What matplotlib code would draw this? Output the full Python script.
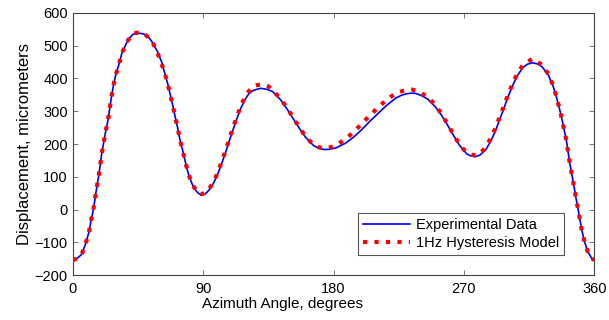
import matplotlib
matplotlib.use("Agg")
import matplotlib.pyplot as plt

plt.rcParams['font.family'] = ['Liberation Sans', 'DejaVu Sans']

# Experimental data (blue)
exp_angle = [0, 3, 6.2, 9, 11.2, 12.6, 14.2, 15.4, 16.6, 17.9, 19, 20, 21.4, 22.8, 24.4, 25.5,
             26.7, 28, 29.7, 32, 34, 37.3, 39.5, 41.7, 44, 46, 48, 50, 52.3, 54.6, 58.4, 61.4,
             63.5, 65.6, 67.4, 69.2, 70.8, 72.5, 74, 75.9, 77.7, 79.6, 82.3, 84.3, 86.3, 88,
             89.5, 91.3, 93, 95.3, 97.5, 100.5, 103.2, 105.8, 108.1, 110.6, 113.2, 115.9,
             119.1, 121.5, 124, 127, 130, 134, 138, 143.5, 147.9, 152.2, 156.4, 160.8, 166.3,
             170, 173.5, 177.5, 181.7, 188.4, 194.4, 199.7, 205.2, 210.7, 216.4, 222.9, 226.5,
             230, 233, 236, 238.3, 241.5, 245, 250.2, 254.7, 258.8, 262.7, 266.8, 271.9, 274.5,
             277.6, 281, 285, 288.7, 292, 294.9, 297.7, 300.4, 303.4, 306.6, 310.8, 314, 317.2,
             320.5, 323.9, 328.3, 331.3, 333.5, 335.6, 337.5, 339.1, 340.7, 341.8, 343, 344.4,
             345.8, 347.1, 348.5, 349.9, 351.3, 353.1, 355.4, 358, 360]
exp_disp = [-155, -149, -137, -103, -69, -35, -2, 33, 68, 102, 136, 170, 205, 240, 274, 308,
            343, 377, 411, 445, 478, 510, 525, 535, 538, 538, 537, 534, 526, 513, 483, 450,
            417, 383, 349, 315, 281, 248, 213, 180, 146, 112, 79, 62, 51, 46,
            45, 47, 54, 67, 83, 113, 145, 178, 210, 243, 276, 308,
            337, 353, 362, 367, 370, 367, 360, 335, 307, 277, 248, 220, 195,
            187, 183, 184, 188, 203, 223, 245, 270, 293, 317, 340, 348,
            353, 355, 355, 352, 346, 337, 314, 287, 257, 227, 197, 170, 164,
            161, 166, 182, 210, 243, 277, 310, 344, 376, 407, 434, 444, 448,
            445, 436, 410, 380, 349, 314, 279, 245, 211, 178, 143, 109,
            75, 41, 8, -27, -62, -96, -128, -148, -155]

# 1Hz hysteresis model (red dotted)
mod_angle = [0, 3, 6.2, 9, 11.2, 12.6, 14.2, 15.4, 16.6, 17.9, 19, 20, 21.4, 22.8, 24.4, 25.5,
             26.7, 28, 29.7, 32, 34, 37.3, 41.6, 45.3, 49.2, 54.7, 58.2, 61, 63.5, 65.6,
             67.4, 69.2, 70.8, 72.5, 74, 75.9, 77.7, 79.6, 82.3, 86.3, 89.3, 93.2, 97.5,
             100.5, 103.2, 105.8, 108.1, 110.6, 113.2, 115.9, 119.1, 124, 127.5, 131.5, 135,
             138, 143.5, 147.9, 152.2, 156.4, 160.8, 166.3, 170, 174.1, 178, 181.7, 188.4,
             194.4, 199.7, 205.2, 210.7, 216.4, 222.9, 230.5, 234.5, 238.3, 245, 250.2, 254.7,
             258.8, 262.7, 266.8, 271.9, 275.3, 278.8, 282, 285, 288.7, 292, 294.9, 297.7,
             300.4, 303.4, 306.6, 310.8, 317.2, 323.9, 328.3, 331.3, 333.5, 335.6, 337.5,
             339.1, 340.7, 341.8, 343, 344.4, 345.8, 347.1, 348.5, 349.9, 351.3, 353.1, 355.4,
             358, 360]
mod_disp = [-155, -149, -137, -103, -69, -35, -2, 33, 68, 102, 136, 170, 205, 240, 274, 308,
            343, 377, 411, 445, 478, 511, 538, 540, 538, 514, 482, 449, 417, 383,
            349, 315, 281, 248, 213, 180, 146, 112, 79, 49, 47, 57, 86,
            118, 151, 184, 216, 250, 282, 315, 347, 375, 380, 382, 376,
            364, 338, 310, 280, 251, 222, 197, 190, 187, 190, 196, 215,
            239, 263, 288, 311, 334, 355, 366, 366, 361, 344, 319, 291,
            260, 230, 199, 173, 167, 166, 175, 190, 219, 251, 285, 317,
            350, 382, 413, 442, 460, 442, 413, 382, 349, 314, 279,
            245, 211, 178, 143, 109, 75, 41, 8, -27, -62, -96, -128,
            -148, -155]

x_ticks = [0, 90, 180, 270, 360]
y_ticks = [-200, -100, 0, 100, 200, 300, 400, 500, 600]

fig = plt.figure(figsize=(6.09, 3.2), dpi=100)
ax = fig.add_axes([0.1194, 0.1406, 0.8565, 0.8188])

ax.plot(exp_angle, exp_disp, color='#0000ff', lw=1.2, label='Experimental Data', zorder=2)
ax.plot(mod_angle, mod_disp, color='#ff0000', lw=3.0, linestyle=(0, (1, 1.75)),
        dash_capstyle='butt', label='1Hz Hysteresis Model', zorder=3)

ax.set_xlim(0, 360)
ax.set_ylim(-200, 600)
ax.set_xticks(x_ticks)
ax.set_yticks(y_ticks)
ax.set_yticklabels(['\u2212200', '\u2212100', '0', '100', '200', '300', '400', '500', '600'])
ax.tick_params(direction='in', top=True, right=True, length=3.5, width=0.7,
               color='#777777', labelsize=10.5, pad=3.5)
ax.tick_params(axis='x', pad=5)
for s in ax.spines.values():
    s.set_color('#444444')
    s.set_linewidth(0.8)

ax.set_xlabel('Azimuth Angle, degrees', fontsize=11, labelpad=2)
ax.xaxis.set_label_coords(0.403, -0.085)
ax.set_ylabel('Displacement, micrometers', fontsize=12, labelpad=2)

leg = ax.legend(loc='lower right', bbox_to_anchor=(0.942, 0.076), borderaxespad=0,
                fontsize=10.5, fancybox=False, framealpha=1, edgecolor='#555555',
                handlelength=3.2, handletextpad=0.4, borderpad=0.35, labelspacing=0.3)
leg.get_frame().set_linewidth(0.8)

fig.savefig('out.png', dpi=100)
